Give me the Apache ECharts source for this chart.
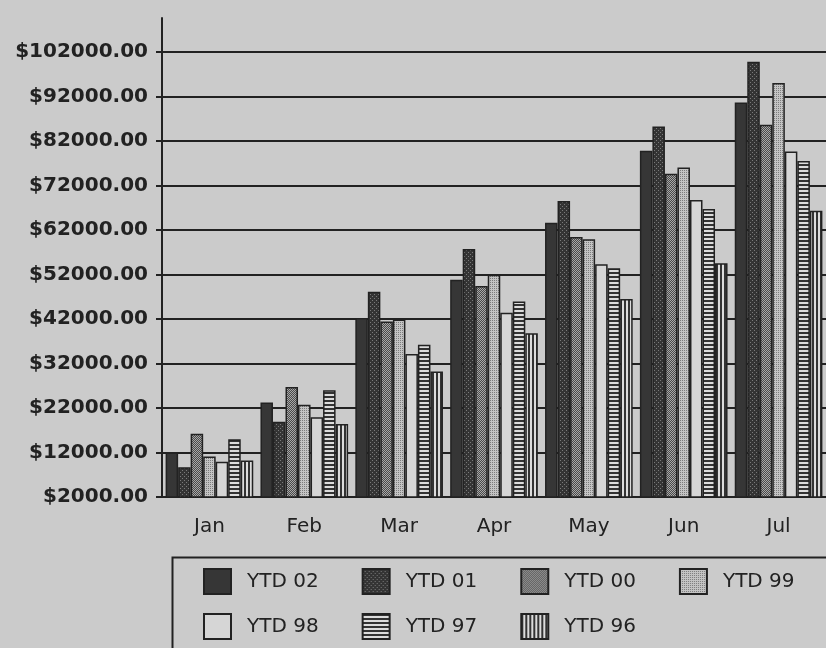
<!DOCTYPE html>
<html>
<head>
<meta charset="utf-8">
<script src="https://cdn.jsdelivr.net/npm/echarts@6/dist/echarts.min.js"></script>
<style>
html,body{margin:0;padding:0;background:#cbcbcb;}
#c{width:826px;height:648px;}
</style>
</head>
<body>
<div id="c"></div>
<script>
// ---- data ----
var months = ['Jan', 'Feb', 'Mar', 'Apr', 'May', 'Jun', 'Jul'];
var seriesNames = ['YTD 02', 'YTD 01', 'YTD 00', 'YTD 99', 'YTD 98', 'YTD 97', 'YTD 96'];
var ytd02 = [12000, 23200, 42200, 50800, 63600, 79800, 90600];
var ytd01 = [8700, 18900, 48100, 57700, 68500, 85200, 99800];
var ytd00 = [16200, 26700, 41400, 49400, 60400, 74600, 85600];
var ytd99 = [11100, 22700, 41900, 51900, 59900, 76000, 95000];
var ytd98 = [9900, 19900, 34100, 43400, 54300, 68700, 79600];
var ytd97 = [15000, 26000, 36200, 45900, 53400, 66700, 77500];
var ytd96 = [10200, 18400, 30200, 38800, 46500, 54500, 66300];
var yMin = 2000, yMax = 109600, yStep = 10000;

// ---- patterns ----
function pattern(w, h, base, dark, pts) {
  var cv = document.createElement('canvas');
  cv.width = w; cv.height = h;
  var ctx = cv.getContext('2d');
  ctx.fillStyle = base; ctx.fillRect(0, 0, w, h);
  ctx.fillStyle = dark;
  pts.forEach(function (p) { ctx.fillRect(p[0], p[1], p[2] || 1, p[3] || 1); });
  return { image: cv, repeat: 'repeat' };
}
var fills = [
  '#363636',
  pattern(4, 4, '#343434', '#7a7a7a', [[0, 0], [2, 2]]),
  pattern(2, 2, '#4a4a4a', '#a8a8a8', [[0, 0], [1, 1]]),
  pattern(2, 2, '#c4c4c4', '#7c7c7c', [[0, 0]]),
  '#d6d6d6',
  pattern(4, 4, '#dcdcdc', '#333333', [[0, 0, 4, 2]]),
  pattern(4, 4, '#dcdcdc', '#333333', [[0, 0, 2, 4]])
];
var values = [ytd02, ytd01, ytd00, ytd99, ytd98, ytd97, ytd96];

var chart = echarts.init(document.getElementById('c'));
var font = 'DejaVu Sans';
var ink = '#222222';

var series = seriesNames.map(function (n, i) {
  return {
    name: n,
    type: 'bar',
    data: values[i],
    barGap: '0%',
    barCategoryGap: '7.6%',
    itemStyle: { color: fills[i], borderColor: ink, borderWidth: 1.5 }
  };
});

function legendCfg(names, top) {
  return {
    data: names,
    left: 203,
    top: top,
    width: 700,
    padding: 0,
    orient: 'horizontal',
    icon: 'rect',
    itemWidth: 27,
    itemHeight: 25,
    itemGap: 43,
    selectedMode: false,
    textStyle: { fontFamily: font, fontSize: 20, color: ink, padding: [0, 0, 0, 11] }
  };
}

chart.setOption({
  animation: false,
  backgroundColor: '#cbcbcb',
  grid: { left: 162, right: -3, top: 18, bottom: 151, containLabel: false },
  xAxis: {
    type: 'category',
    data: months,
    axisLine: { lineStyle: { color: ink, width: 2 } },
    axisTick: { length: 6, lineStyle: { color: ink, width: 2 } },
    axisLabel: { fontFamily: font, fontSize: 20, color: ink, margin: 20 }
  },
  yAxis: {
    type: 'value',
    min: yMin,
    max: yMax,
    interval: yStep,
    axisLine: { show: true, lineStyle: { color: ink, width: 2 } },
    axisTick: { show: true, length: 6, lineStyle: { color: ink, width: 2 } },
    axisLabel: {
      fontFamily: font, fontSize: 20, fontWeight: 'bold', color: ink, margin: 14,
      showMaxLabel: false,
      formatter: function (v) { return (v - yMin) % yStep === 0 ? '$' + v.toFixed(2) : ''; }
    },
    splitLine: { show: true, showMaxLine: false, lineStyle: { color: ink, width: 2 } }
  },
  legend: [
    legendCfg(seriesNames.slice(0, 4), 568),
    legendCfg(seriesNames.slice(4), 613)
  ],
  graphic: [{
    type: 'rect',
    left: 170, top: 555,
    shape: { width: 700, height: 120 },
    style: { fill: 'none', stroke: ink, lineWidth: 2 },
    z: -1
  }],
  series: series
});
</script>
</body>
</html>
